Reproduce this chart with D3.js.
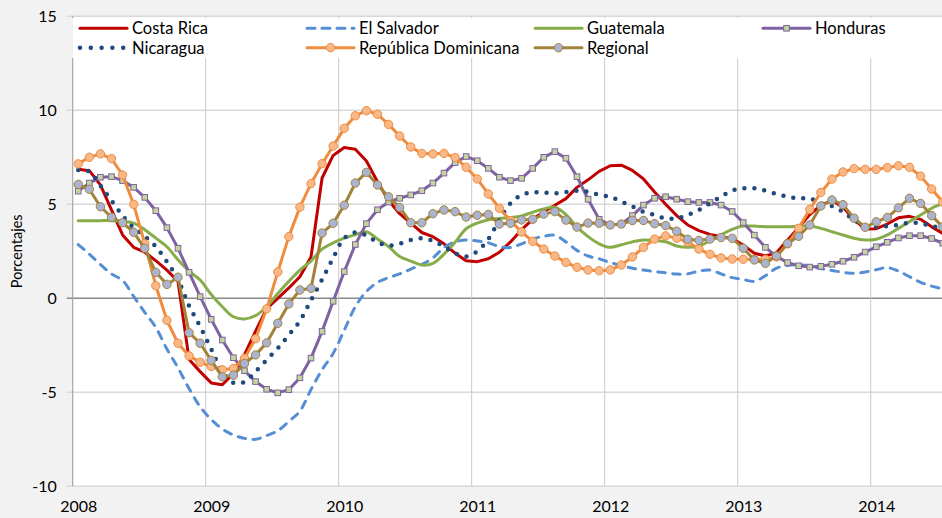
<!DOCTYPE html>
<html>
<head>
<meta charset="utf-8">
<script src="https://cdn.jsdelivr.net/npm/d3@7"></script>
<style>
  html, body { margin: 0; padding: 0; background: #f2f2f2; }
  svg { display: block; font-family: "Lato", "Open Sans", sans-serif; }
</style>
</head>
<body>
<div id="chart"></div>
<script>
// monthly values, Jan 2008 .. Jul 2014
const years = ["2008", "2009", "2010", "2011", "2012", "2013", "2014"];
const yTicks = [-10, -5, 0, 5, 10, 15];

const costaRica = [6.86, 6.79, 6.03, 4.70, 3.37, 2.71, 2.45, 2.0, 1.5, 0.9,
  -3.25, -3.9, -4.5, -4.6, -4.0, -3.0, -1.75, -0.55, 0.0, 0.55,
  1.15, 2.2, 6.4, 7.6, 8.02, 7.93, 7.3, 6.2, 5.2, 4.5,
  4.0, 3.5, 3.28, 2.9, 2.4, 2.0, 1.95, 2.1, 2.45, 3.0,
  3.65, 4.2, 4.6, 4.95, 5.3, 5.9, 6.3, 6.75, 7.05, 7.08,
  6.8, 6.35, 5.65, 5.0, 4.4, 3.9, 3.6, 3.4, 3.28, 3.18,
  2.83, 2.4, 2.25, 2.43, 3.1, 3.75, 4.45, 4.95, 5.2, 4.85,
  4.2, 3.68, 3.7, 3.95, 4.28, 4.36, 4.2, 3.8, 3.45];

const elSalvador = [2.86, 2.35, 1.8, 1.3, 0.95, 0.1, -0.75, -1.55, -2.7, -3.7,
  -4.8, -5.77, -6.45, -6.95, -7.27, -7.45, -7.5, -7.3, -7.05, -6.55,
  -6.0, -4.85, -3.8, -2.93, -1.7, -0.45, 0.36, 0.85, 1.1, 1.3,
  1.55, 1.8, 2.15, 2.7, 3.0, 3.1, 3.05, 2.95, 2.75, 2.7,
  2.9, 3.15, 3.3, 3.35, 3.0, 2.55, 2.25, 2.1, 1.9, 1.75,
  1.6, 1.5, 1.42, 1.36, 1.29, 1.3, 1.45, 1.5, 1.3, 1.1,
  1.0, 0.9, 1.2, 1.6, 1.75, 1.78, 1.72, 1.58, 1.48, 1.38,
  1.33, 1.4, 1.52, 1.63, 1.45, 1.15, 0.85, 0.65, 0.5];

const guatemala = [4.13, 4.13, 4.13, 4.13, 4.08, 4.0, 3.65, 3.2, 2.74, 2.05,
  1.45, 0.97, 0.2, -0.45, -0.98, -1.1, -0.92, -0.45, 0.25, 0.9,
  1.5, 1.98, 2.62, 2.95, 3.2, 3.38, 3.54, 3.15, 2.75, 2.22,
  1.98, 1.77, 1.86, 2.35, 2.98, 3.7, 4.0, 4.18, 4.25, 4.3,
  4.38, 4.58, 4.75, 4.85, 4.45, 3.8, 3.28, 2.9, 2.71, 2.85,
  3.0, 3.1, 3.07, 3.01, 2.78, 2.71, 2.78, 3.05, 3.37, 3.67,
  3.84, 3.84, 3.81, 3.81, 3.81, 3.84, 3.84, 3.72, 3.54, 3.37,
  3.19, 3.1, 3.14, 3.37, 3.72, 4.08, 4.43, 4.79, 5.05];

const honduras = [5.7, 6.13, 6.44, 6.47, 6.26, 5.9, 5.37, 4.66, 3.76, 2.66,
  1.38, 0.09, -1.12, -2.22, -3.16, -3.85, -4.43, -4.84, -5.03, -4.86,
  -4.23, -3.18, -1.76, -0.16, 1.42, 2.86, 3.97, 4.71, 5.12, 5.32,
  5.5, 5.72, 6.13, 6.66, 7.22, 7.54, 7.32, 6.91, 6.44, 6.26,
  6.38, 6.91, 7.5, 7.8, 7.45, 6.47, 5.27, 4.2, 3.9, 3.95,
  4.4, 4.96, 5.32, 5.4, 5.27, 5.14, 5.1, 5.1, 4.96, 4.62,
  4.03, 3.36, 2.71, 2.23, 1.9, 1.73, 1.66, 1.7, 1.81, 1.97,
  2.18, 2.46, 2.74, 2.98, 3.21, 3.33, 3.33, 3.18, 2.93];

const nicaragua = [6.83, 6.74, 6.0, 5.2, 4.4, 3.75, 3.3, 2.75, 1.95, 1.0,
  -0.4, -1.5, -2.7, -3.9, -4.5, -4.45, -3.9, -3.28, -2.66, -1.95,
  -1.2, -0.1, 1.0, 2.15, 3.2, 3.5, 3.35, 2.98, 2.8, 2.9,
  3.1, 3.19, 3.05, 2.75, 2.4, 2.22, 2.5, 3.15, 4.17, 5.05,
  5.5, 5.64, 5.62, 5.59, 5.65, 5.72, 5.67, 5.5, 5.4, 5.14,
  4.88, 4.6, 4.43, 4.25, 4.25, 4.43, 4.7, 5.05, 5.41, 5.73,
  5.85, 5.85, 5.73, 5.55, 5.41, 5.32, 5.32, 5.05, 4.91, 4.6,
  4.17, 3.84, 3.81, 3.84, 3.9, 4.02, 3.99, 3.84, 3.77];

const repDominicana = [7.15, 7.5, 7.68, 7.43, 6.56, 5.0, 2.9, 0.67, -1.17, -2.39,
  -3.06, -3.4, -3.63, -3.8, -3.73, -3.19, -2.15, -0.56, 1.4, 3.28,
  4.85, 6.1, 7.16, 8.1, 9.04, 9.71, 9.98, 9.79, 9.25, 8.63,
  8.05, 7.71, 7.68, 7.71, 7.49, 6.97, 6.35, 5.55, 4.79, 4.13,
  3.53, 3.03, 2.62, 2.25, 1.91, 1.65, 1.51, 1.47, 1.51, 1.77,
  2.2, 2.71, 3.15, 3.32, 3.2, 2.99, 2.62, 2.34, 2.15, 2.09,
  2.08, 2.07, 2.07, 2.2, 2.9, 3.72, 4.73, 5.63, 6.34, 6.72,
  6.9, 6.86, 6.86, 6.95, 7.05, 6.97, 6.5, 5.81, 5.12];

const regional = [6.06, 5.8, 4.87, 4.31, 4.02, 3.51, 2.66, 1.38, 0.74, 1.12,
  -1.83, -2.39, -3.3, -4.18, -4.09, -3.47, -3.01, -2.37, -1.33, -0.3,
  0.44, 0.53, 3.47, 3.99, 4.95, 6.13, 6.7, 6.03, 5.4, 4.83,
  4.02, 4.02, 4.5, 4.7, 4.61, 4.32, 4.42, 4.46, 3.95, 3.99,
  4.17, 4.2, 4.48, 4.61, 4.16, 3.79, 4.0, 3.99, 3.9, 3.95,
  4.14, 4.14, 3.97, 3.87, 3.57, 3.14, 3.08, 3.15, 3.23, 3.19,
  2.66, 2.04, 1.86, 2.25, 2.91, 3.3, 3.9, 4.91, 5.23, 4.98,
  4.26, 3.78, 4.07, 4.3, 4.81, 5.32, 5.05, 4.4, 3.8];

const W = 942, H = 518;
const plotLeft = 72.7, plotTop = 16.3, plotBottom = 486.3, plotRight = 952;
const monthW = 133 / 12;

const svg = d3.select("#chart")
  .append("svg")
  .attr("width", W)
  .attr("height", H);

// x: months since Jan 2008, points sit in the middle of their month
const x = d3.scaleLinear().domain([0, 12]).range([plotLeft, plotLeft + 133]);
const y = d3.scaleLinear().domain([-10, 15]).range([plotBottom, plotTop]);

svg.append("rect")
  .attr("width", W).attr("height", H)
  .attr("fill", "#f2f2f2");

svg.append("rect")
  .attr("x", plotLeft).attr("y", plotTop)
  .attr("width", plotRight - plotLeft).attr("height", plotBottom - plotTop)
  .attr("fill", "#ffffff");

// horizontal gridlines
svg.append("g")
  .selectAll("line")
  .data(yTicks)
  .join("line")
  .attr("x1", plotLeft - 6)
  .attr("x2", plotRight)
  .attr("y1", d => y(d))
  .attr("y2", d => y(d))
  .attr("stroke", d => d === 0 ? "#8a8a8a" : "#d9d9d9")
  .attr("stroke-width", 1.5);

// vertical gridlines at each year
svg.append("g")
  .selectAll("line")
  .data(d3.range(12, 12 * years.length, 12))
  .join("line")
  .attr("x1", d => x(d))
  .attr("x2", d => x(d))
  .attr("y1", plotTop)
  .attr("y2", plotBottom)
  .attr("stroke", "#c9c9c9")
  .attr("stroke-width", 1);

// left axis line
svg.append("line")
  .attr("x1", plotLeft).attr("x2", plotLeft)
  .attr("y1", plotTop).attr("y2", plotBottom)
  .attr("stroke", "#a6a6a6")
  .attr("stroke-width", 1.2);

// y tick labels (plain hyphen for negatives, as in the original)
const yAxis = svg.append("g")
  .attr("transform", `translate(${plotLeft},0)`)
  .call(d3.axisLeft(y).tickValues(yTicks).tickFormat(d => String(d)).tickSize(0).tickPadding(16));
yAxis.select(".domain").remove();
yAxis.selectAll("text")
  .attr("font-size", 16)
  .attr("font-family", "Lato, sans-serif")
  .attr("fill", "#000");

// x tick labels, centred on the first month of each year
const xAxis = svg.append("g")
  .attr("transform", `translate(0,${plotBottom})`)
  .call(d3.axisBottom(x)
    .tickValues(d3.range(0, 12 * years.length, 12))
    .tickFormat((d, i) => years[i])
    .tickSize(0)
    .tickPadding(14));
xAxis.select(".domain").remove();
xAxis.selectAll("text")
  .attr("dx", monthW / 2)
  .attr("font-size", 16)
  .attr("font-family", "Lato, sans-serif")
  .attr("fill", "#000");

svg.append("text")
  .attr("transform", `translate(22,${(plotTop + plotBottom) / 2}) rotate(-90)`)
  .attr("text-anchor", "middle")
  .attr("font-size", 14.5)
  .attr("fill", "#000")
  .text("Porcentajes");

const series = [
  { name: "Costa Rica", values: costaRica, color: "#c00000", curve: d3.curveLinear },
  { name: "El Salvador", values: elSalvador, color: "#558ed5", dash: "7.5,7.5", curve: d3.curveCatmullRom },
  { name: "Guatemala", values: guatemala, color: "#87ad4a", curve: d3.curveCatmullRom },
  { name: "Honduras", values: honduras, color: "#7f62a1", marker: "square", fill: "#c3d69b", curve: d3.curveLinear },
  { name: "Nicaragua", values: nicaragua, color: "#1f497d", dash: "0,10", width: 4.5, curve: d3.curveCatmullRom },
  { name: "República Dominicana", values: repDominicana, color: "#f08c3e", marker: "circle", fill: "#f9b888", curve: d3.curveLinear },
  { name: "Regional", values: regional, color: "#a2833b", marker: "circle", fill: "#aab4d2", curve: d3.curveLinear }
];

svg.append("clipPath").attr("id", "plot-clip")
  .append("rect")
  .attr("x", plotLeft).attr("y", plotTop - 10)
  .attr("width", plotRight - plotLeft).attr("height", plotBottom - plotTop + 20);

const plot = svg.append("g").attr("clip-path", "url(#plot-clip)");

series.forEach(s => {
  const line = d3.line()
    .x((d, i) => x(i + 0.5))
    .y(d => y(d))
    .curve(s.curve);

  plot.append("path")
    .datum(s.values)
    .attr("d", line)
    .attr("fill", "none")
    .attr("stroke", s.color)
    .attr("stroke-width", s.width || 3)
    .attr("stroke-linecap", "round")
    .attr("stroke-linejoin", "round")
    .attr("stroke-dasharray", s.dash || null);

  if (s.marker === "circle") {
    plot.append("g")
      .selectAll("circle")
      .data(s.values)
      .join("circle")
      .attr("cx", (d, i) => x(i + 0.5))
      .attr("cy", d => y(d))
      .attr("r", 4.2)
      .attr("fill", s.fill)
      .attr("stroke", s.color)
      .attr("stroke-width", 1);
  } else if (s.marker === "square") {
    plot.append("g")
      .selectAll("rect")
      .data(s.values)
      .join("rect")
      .attr("x", (d, i) => x(i + 0.5) - 2.8)
      .attr("y", d => y(d) - 2.8)
      .attr("width", 5.6)
      .attr("height", 5.6)
      .attr("fill", s.fill)
      .attr("stroke", s.color)
      .attr("stroke-width", 1);
  }
});

// legend
const legend = svg.append("g");
legend.append("rect")
  .attr("x", plotLeft - 0.5).attr("y", 18)
  .attr("width", W - plotLeft + 1).attr("height", 40)
  .attr("fill", "#ffffff");

const legendCols = [80, 307, 535, 763];
const legendRows = [28.3, 47.7];

const items = legend.selectAll("g.item")
  .data(series)
  .join("g")
  .attr("class", "item")
  .attr("transform", (d, i) => `translate(${legendCols[i % 4]},${legendRows[Math.floor(i / 4)]})`);

items.append("line")
  .attr("x1", 0).attr("x2", 47)
  .attr("y1", 0).attr("y2", 0)
  .attr("stroke", d => d.color)
  .attr("stroke-width", d => d.width || 3)
  .attr("stroke-linecap", "round")
  .attr("stroke-dasharray", d => d.dash ? (d.dash === "0,10" ? "0,10.8" : "8,7") : null);

items.filter(d => d.marker === "circle")
  .append("circle")
  .attr("cx", 23.5).attr("cy", 0).attr("r", 4.2)
  .attr("fill", d => d.fill)
  .attr("stroke", d => d.color);

items.filter(d => d.marker === "square")
  .append("rect")
  .attr("x", 20.7).attr("y", -2.8)
  .attr("width", 5.6).attr("height", 5.6)
  .attr("fill", d => d.fill)
  .attr("stroke", d => d.color);

items.append("text")
  .attr("x", 52)
  .attr("y", 0)
  .attr("dy", "0.36em")
  .attr("font-size", 16.5)
  .attr("fill", "#000")
  .text(d => d.name);
</script>
</body>
</html>
